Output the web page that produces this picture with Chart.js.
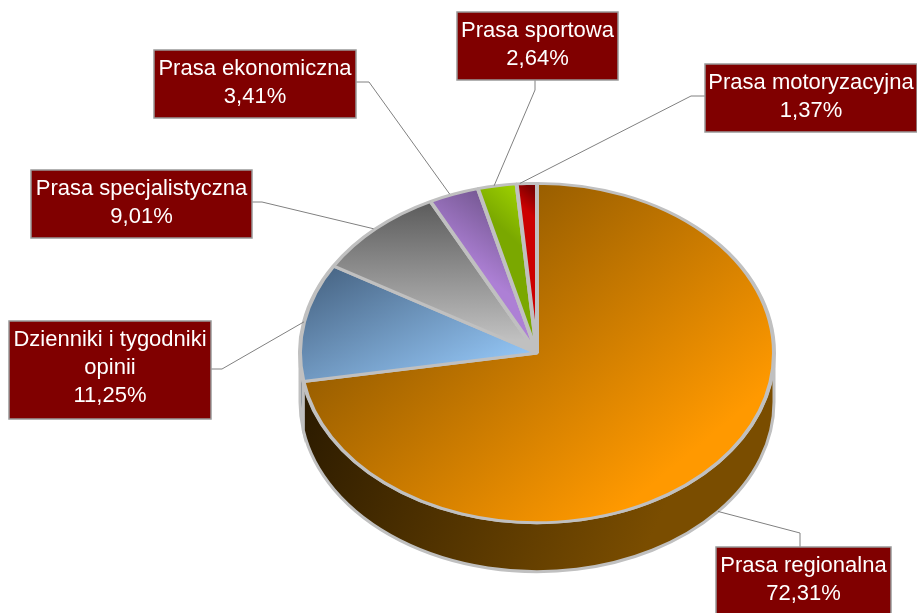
<!DOCTYPE html>
<html lang="pl">
<head>
<meta charset="utf-8">
<title>Udział prasy</title>
<style>
    html, body { margin: 0; padding: 0; background: #fff; overflow: hidden; }
    canvas { display: block; }
</style>
<script src="https://cdn.jsdelivr.net/npm/chart.js@4/dist/chart.umd.min.js"></script>
</head>
<body>
<canvas id="myChart" width="917" height="613"></canvas>
<script>
const categories = [
    "Prasa regionalna",
    "Dzienniki i tygodniki opinii",
    "Prasa specjalistyczna",
    "Prasa ekonomiczna",
    "Prasa sportowa",
    "Prasa motoryzacyjna"
];
const shares = [72.31, 11.25, 9.01, 3.41, 2.64, 1.37];

// ligne(s) de texte de chaque étiquette
const labelLines = [
    ["Prasa regionalna"],
    ["Dzienniki i tygodniki", "opinii"],
    ["Prasa specjalistyczna"],
    ["Prasa ekonomiczna"],
    ["Prasa sportowa"],
    ["Prasa motoryzacyjna"]
];

// mise en page des étiquettes : [gauche, haut, droite, bas]
const labelBoxes = [
    [716, 547, 891, 616],
    [9, 321, 211, 419],
    [31, 170, 252, 238],
    [154, 50, 356, 118],
    [457, 12, 618, 80],
    [705, 64, 917, 132]
];
// trait de rappel : sortie de la boîte puis coude
const leaderElbows = [
    [[800, 547], [800, 533]],
    [[211, 369], [222, 369]],
    [[252, 202], [262, 202]],
    [[356, 82], [369, 82]],
    [[535, 80], [535, 90]],
    [[705, 96], [691, 96]]
];
const leaderNudge = [0, 0, -2, -4, -3, -7];

const SQUASH = 0.716;   // aplatissement du disque
const DEPTH = 49;       // épaisseur du disque
const EDGE = "#c0c0c0";

// dégradés en coordonnées écran : x0, y0, x1, y1, couleur début, couleur fin
const faceGradients = [
    [537, 190, 729, 421, "#9a5f00", "#ff9900"],
    [335, 268, 410, 417, "#4a6888", "#94c6f6"],
    [430, 200, 430, 340, "#5a5a5a", "#c0c0c0"],
    [478, 192, 440, 245, "#785a96", "#ad80d5"],
    [487, 215, 512, 188, "#7aa800", "#99cc00"],
    [534, 190, 520, 205, "#7a0000", "#cc0000"]
];
const wallGradients = [
    [300, 400, 640, 560, "#2a1a00", "#7a4d00"],
    [297, 382, 297, 430, "#2e4054", "#3a5570"]
];

function faceFill(context) {
    const area = context.chart.chartArea;
    if (!area)
        return EDGE;
    const cy = (area.top + area.bottom) / 2;
    const [x0, y0, x1, y1, from, to] = faceGradients[context.dataIndex];

    // le dégradé est défini avant l'aplatissement : on garde son orientation à l'écran
    const vx = x1 - x0, vy = y1 - y0;
    const len2 = vx * vx + vy * vy;
    const gx = vx / len2, gy = vy * SQUASH / len2;
    const g2 = gx * gx + gy * gy;
    const sx = x0, sy = cy + (y0 - cy) / SQUASH;

    const gradient = context.chart.ctx.createLinearGradient(sx, sy, sx + gx / g2, sy + gy / g2);
    gradient.addColorStop(0, from);
    gradient.addColorStop(1, to);
    return gradient;
}

const piePlugin = {
    id: "pie3d",
    beforeDatasetsDraw(chart) {
        const ctx = chart.ctx;
        const arcs = chart.getDatasetMeta(0).data;
        const { x, y, outerRadius } = arcs[0];

        // paroi visible : uniquement la moitié basse du disque
        [1, 0].forEach(function (i) {
            const a0 = Math.max(arcs[i].startAngle, 0);
            const a1 = Math.min(arcs[i].endAngle, Math.PI);
            if (a1 <= a0)
                return;
            const w = wallGradients[i];
            const gradient = ctx.createLinearGradient(w[0], w[1], w[2], w[3]);
            gradient.addColorStop(0, w[4]);
            gradient.addColorStop(1, w[5]);
            ctx.beginPath();
            ctx.ellipse(x, y, outerRadius, outerRadius * SQUASH, 0, a0, a1);
            ctx.ellipse(x, y + DEPTH, outerRadius, outerRadius * SQUASH, 0, a1, a0, true);
            ctx.closePath();
            ctx.fillStyle = gradient;
            ctx.fill();
            ctx.strokeStyle = EDGE;
            ctx.lineWidth = 3;
            ctx.stroke();
        });

        ctx.save();
        ctx.translate(x, y);
        ctx.scale(1, SQUASH);
        ctx.translate(-x, -y);
    },
    afterDatasetsDraw(chart) {
        const ctx = chart.ctx;
        ctx.restore();

        const arcs = chart.getDatasetMeta(0).data;
        arcs.forEach(function (arc, i) {
            const mid = (arc.startAngle + arc.endAngle) / 2;
            const rimX = arc.x + arc.outerRadius * Math.cos(mid) + leaderNudge[i];
            let rimY = arc.y + arc.outerRadius * SQUASH * Math.sin(mid);
            if (Math.sin(mid) > 0)
                rimY += DEPTH;

            const elbow = leaderElbows[i];
            ctx.beginPath();
            ctx.moveTo(elbow[0][0], elbow[0][1]);
            ctx.lineTo(elbow[1][0], elbow[1][1]);
            ctx.lineTo(rimX, rimY);
            ctx.strokeStyle = "#808080";
            ctx.lineWidth = 1;
            ctx.stroke();

            const [l, t, r, b] = labelBoxes[i];
            ctx.fillStyle = "#800000";
            ctx.fillRect(l, t, r - l, b - t);
            ctx.strokeStyle = "#999999";
            ctx.lineWidth = 1.5;
            ctx.strokeRect(l, t, r - l, b - t);

            const lines = labelLines[i].concat(shares[i].toFixed(2).replace(".", ",") + "%");
            ctx.fillStyle = "#ffffff";
            ctx.font = "22px 'Liberation Sans'";
            ctx.textAlign = "center";
            ctx.textBaseline = "middle";
            lines.forEach(function (line, n) {
                ctx.fillText(line, (l + r) / 2, t + 19 + n * 28);
            });
        });
    }
};

new Chart(document.getElementById("myChart"), {
    type: "pie",
    data: {
        labels: categories,
        datasets: [{
            data: shares,
            backgroundColor: faceFill,
            borderColor: EDGE,
            borderWidth: 4,
            clip: false
        }]
    },
    options: {
        responsive: false,
        animation: false,
        layout: {
            padding: { left: 298, right: 141, top: 114, bottom: 21 }
        },
        plugins: {
            legend: { display: false },
            tooltip: { enabled: false }
        }
    },
    plugins: [piePlugin]
});
</script>
</body>
</html>
